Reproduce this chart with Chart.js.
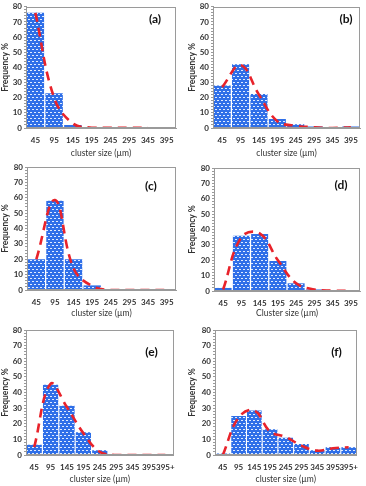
<!DOCTYPE html>
<html>
<head>
<meta charset="utf-8">
<script src="https://cdn.jsdelivr.net/npm/chart.js@4.4.1/dist/chart.umd.min.js"></script>
<style>
  body { margin: 0; background: #fff; width: 366px; height: 486px; position: relative; overflow: hidden; }
  .panel { position: absolute; }
</style>
</head>
<body>
<div class="panel" style="left:0;top:0"><canvas id="cA" width="183" height="160"></canvas></div>
<div class="panel" style="left:183px;top:0"><canvas id="cB" width="183" height="160"></canvas></div>
<div class="panel" style="left:0;top:160px"><canvas id="cC" width="183" height="160"></canvas></div>
<div class="panel" style="left:183px;top:160px"><canvas id="cD" width="183" height="160"></canvas></div>
<div class="panel" style="left:0;top:320px"><canvas id="cE" width="183" height="166"></canvas></div>
<div class="panel" style="left:183px;top:320px"><canvas id="cF" width="183" height="166"></canvas></div>
<script>
// categories (cluster size, µm)
const sizes8 = ['45', '95', '145', '195', '245', '295', '345', '395'];
const sizes9 = ['45', '95', '145', '195', '245', '295', '345', '395', '395+'];

// frequency % per panel: bars, and the fitted (dashed) curve
const barsA = [76, 23, 2, 0.3, 0.3, 0.3, 0.3, 0.3];
const fitA  = [76, 20, 3, 0.2, 0.2, 0.2, 0.2, null];

const barsB = [28, 42, 22.5, 6, 2.5, 1, 0.3, 1];
const fitB  = [27, 41.5, 22, 4.5, 1.5, 0.5, 0, 0.5];

const barsC = [20, 58, 20, 3, 0, 0, 0, 0];
const fitC  = [20, 58.5, 14, 2.5, 0, 0, 0, 0];

const barsD = [2, 36, 37, 19.5, 5, 1, 0.5, 0];
const fitD  = [1, 35, 37.5, 20, 5, 1, 0.3, 0];

const barsE = [6.5, 45, 31.5, 14.5, 3, 0, 0, 0, 0];
const fitE  = [5, 45.5, 30.5, 14, 2, 0, 0, 0, 0];

const barsF = [1, 25, 28.5, 16.5, 11, 7, 3, 5, 5];
const fitF  = [0, 24, 28.5, 15, 11.5, 6, 2.8, 4.3, 5];

const FONT = "Lato, 'Open Sans', sans-serif";
const GREY = '#9a9a9a';

function dotPattern() {
  const c = document.createElement('canvas');
  c.width = 4; c.height = 6;
  const g = c.getContext('2d');
  g.fillStyle = '#2f6fe8';
  g.fillRect(0, 0, 4, 6);
  g.fillStyle = 'rgba(235,242,255,0.95)';
  g.fillRect(0, 1, 2, 1);
  g.fillRect(2, 4, 2, 1);
  return g.createPattern(c, 'repeat');
}

// grey box round the plot + panel letter
const framePlugin = {
  id: 'frame',
  afterDraw(chart, args, opts) {
    const { ctx } = chart;
    const { left, top, right, bottom } = chart.chartArea;
    ctx.save();
    ctx.strokeStyle = GREY;
    ctx.lineWidth = 1;
    ctx.strokeRect(Math.round(left) + 0.5, Math.round(top) + 0.5, Math.round(right - left) - 1, Math.round(bottom - top) - 1);
    ctx.fillStyle = '#111';
    ctx.font = 'bold 12px ' + FONT;
    ctx.textAlign = 'center';
    ctx.textBaseline = 'middle';
    ctx.fillText(opts.letter, right - opts.dx, top + opts.dy);
    ctx.restore();
  }
};

// box: panel origin/size and plot-area edges, all in page pixels
function makePanel(id, cats, bars, fit, letter, box, xTitle, lab) {
  const ctx = document.getElementById(id).getContext('2d');
  new Chart(ctx, {
    data: {
      labels: cats,
      datasets: [
        {
          type: 'line', data: fit, order: 0,
          borderColor: '#e8232b', borderWidth: 2.6, borderDash: [9, 6],
          pointRadius: 0, tension: 0.4, fill: false
        },
        {
          type: 'bar', data: bars, order: 1,
          backgroundColor: dotPattern(), borderWidth: 0,
          barPercentage: 0.93, categoryPercentage: 1
        }
      ]
    },
    options: {
      responsive: false, animation: false,
      layout: { padding: { left: 0, top: box.top - box.y, right: box.x + box.w - box.right, bottom: 0 } },
      plugins: {
        legend: { display: false }, tooltip: { enabled: false },
        frame: { letter, dx: lab[0], dy: lab[1] }
      },
      scales: {
        x: {
          grid: { display: false, drawTicks: false },
          border: { display: true, color: GREY },
          ticks: { color: '#333', font: { family: FONT, size: 8, weight: 'bold' }, padding: 8, maxRotation: 0, autoSkip: false },
          title: { display: true, text: xTitle, color: '#333', font: { family: FONT, size: 8.5 }, padding: { top: 0, bottom: 2 } },
          afterFit(s) { s.height = box.y + box.h - box.bottom; }
        },
        y: {
          min: 0, max: 80,
          grid: { drawOnChartArea: false, tickLength: 2, color: GREY },
          border: { color: GREY },
          ticks: {
            stepSize: 2, autoSkip: false, color: '#333', padding: 2,
            font: { family: FONT, size: 8, weight: 'bold' },
            callback: v => (v % 10 === 0 ? v : '')
          },
          title: { display: true, text: 'Frequency %', color: '#333', font: { family: FONT, size: 8.5, weight: 'bold' }, padding: { top: box.x === 0 ? 0 : 4, bottom: 0 } },
          afterFit(s) { s.width = box.left - box.x; }
        }
      }
    },
    plugins: [framePlugin]
  });
}

makePanel('cA', sizes8, barsA, fitA, '(a)', { x: 0, y: 0, w: 183, h: 160, left: 26, right: 176, top: 4, bottom: 128 }, 'cluster size (µm)', [21, 12]);
makePanel('cB', sizes8, barsB, fitB, '(b)', { x: 183, y: 0, w: 183, h: 160, left: 213, right: 363, top: 4, bottom: 128 }, 'cluster size (µm)', [14, 12]);
makePanel('cC', sizes8, barsC, fitC, '(c)', { x: 0, y: 160, w: 183, h: 160, left: 27, right: 176, top: 167, bottom: 290 }, 'cluster size (µm)', [25, 19]);
makePanel('cD', sizes8, barsD, fitD, '(d)', { x: 183, y: 160, w: 183, h: 160, left: 214, right: 364, top: 168, bottom: 291 }, 'Cluster size (µm)', [19, 17]);
makePanel('cE', sizes9, barsE, fitE, '(e)', { x: 0, y: 320, w: 183, h: 166, left: 26, right: 176, top: 330, bottom: 455 }, 'cluster size (µm)', [22, 22]);
makePanel('cF', sizes9, barsF, fitF, '(f)', { x: 183, y: 320, w: 183, h: 166, left: 215, right: 365, top: 330, bottom: 455 }, 'cluster size (µm)', [20, 22]);
</script>
</body>
</html>
